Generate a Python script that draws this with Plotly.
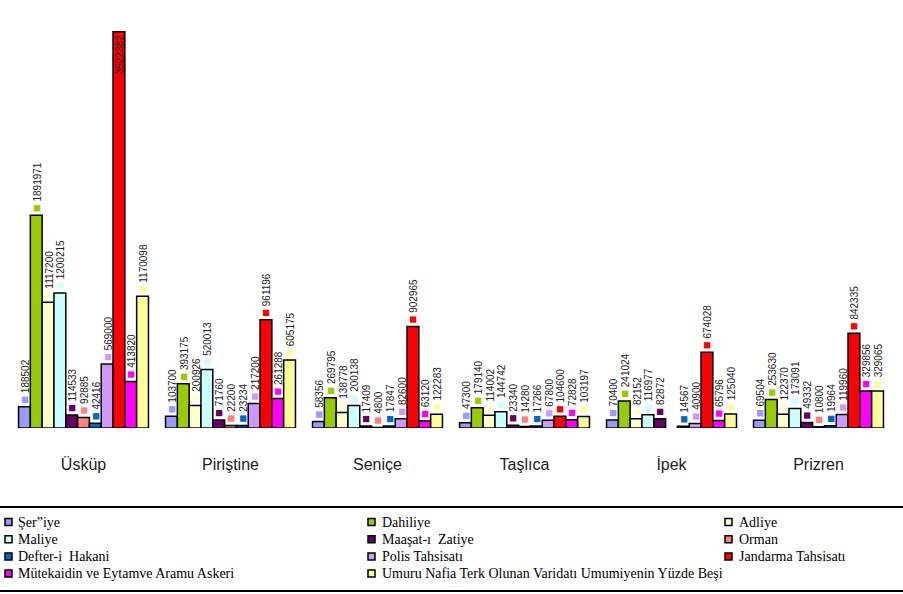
import plotly.graph_objects as go

categories = ["Üsküp", "Piriştine", "Seniçe", "Taşlıca", "İpek", "Prizren"]

series_names = [
    "Şer\u201diye", "Dahiliye", "Adliye",
    "Maliye", "Maaşat-ı  Zatiye", "Orman",
    "Defter-i  Hakani", "Polis Tahsisatı", "Jandarma Tahsisatı",
    "Mütekaidin ve Eytamve Aramu Askeri",
    "Umuru Nafia Terk Olunan Varidatı Umumiyenin Yüzde Beşi",
]

seriye = [188502, 103700, 58356, 47300, 70400, 69504]
dahiliye = [1891971, 393175, 269795, 179140, 241024, 253630]
adliye = [1117200, 200926, 138778, 114002, 82152, 122370]
maliye = [1200215, 520013, 200138, 144742, 116977, 173091]
maasat = [114533, 71760, 17409, 23340, 82872, 49332]
orman = [92885, 22200, 4800, 14280, None, 10800]
defter = [42416, 23234, 17847, 17266, 14567, 19964]
polis = [569000, 217200, 82600, 67800, 40900, 119960]
jandarma = [3522382, 961196, 902965, 104600, 674028, 842335]
mutekaidin = [413820, 261288, 63120, 72828, 65796, 329856]
umuru = [1170098, 605175, 122283, 103197, 125040, 329065]

series_values = [seriye, dahiliye, adliye, maliye, maasat, orman,
                 defter, polis, jandarma, mutekaidin, umuru]

colors = ["#9999FF", "#99CC00", "#FFFFCC", "#CCFFFF", "#660066", "#FF8080",
          "#0066CC", "#CC99FF", "#FF0000", "#FF00FF", "#FFFF99"]

# ---- layout geometry (page pixels; body margin removed in the page) ----
W, H = 903, 594
ML, MT, PW, PH = 10, 23, 882, 405


def fx(page_x):
    return (page_x - ML) / PW


def fy(page_y):
    return (MT + PH - page_y) / PH


ymax = max(max(v for v in s if v is not None) for s in series_values)

fig = go.Figure()
for i, (name, vals, col) in enumerate(zip(series_names, series_values, colors)):
    texts = [("" if v is None else
              f'<span style="color:{col};font-size:13px">■</span> {v}') for v in vals]
    positions = ["inside" if (v is not None and v == ymax) else "outside" for v in vals]
    fig.add_trace(go.Bar(
        x=categories, y=vals, name=name,
        marker=dict(color=col, line=dict(color="black", width=1.5)),
        text=texts, textposition=positions, textangle=-90,
        insidetextanchor="end", constraintext="none", cliponaxis=False,
        textfont=dict(family="Liberation Sans, Arial, sans-serif", size=10, color="#222222"),
        showlegend=False,
    ))

# ---- legend block (three columns, row-major order) ----
leg_font = dict(family="Liberation Serif, Times New Roman, serif", size=14, color="black")
col_key_x = [5, 368, 725]
col_text_x = [16, 380, 737]
row_y0, row_dy = 522, 17.2
key = 7

shapes = [
    dict(type="line", xref="paper", yref="paper", x0=fx(0), x1=fx(W),
         y0=fy(507), y1=fy(507), line=dict(color="black", width=2)),
    dict(type="line", xref="paper", yref="paper", x0=fx(0), x1=fx(W),
         y0=fy(591), y1=fy(591), line=dict(color="black", width=2)),
]
annotations = []
for i, (name, col) in enumerate(zip(series_names, colors)):
    c, r = i % 3, i // 3
    cy = row_y0 + r * row_dy
    kx = col_key_x[c]
    shapes.append(dict(type="rect", xref="paper", yref="paper",
                       x0=fx(kx), x1=fx(kx + key), y0=fy(cy + key / 2), y1=fy(cy - key / 2),
                       fillcolor=col, line=dict(color="black", width=1.5)))
    annotations.append(dict(text=name, xref="paper", yref="paper",
                            x=fx(col_text_x[c]), y=fy(cy), xanchor="left", yanchor="middle",
                            showarrow=False, font=leg_font))

fig.update_layout(
    width=W, height=H,
    margin=dict(l=ML, r=W - ML - PW, t=MT, b=H - MT - PH, autoexpand=False),
    paper_bgcolor="white", plot_bgcolor="white",
    barmode="group", bargap=0.116, bargroupgap=0,
    showlegend=False,
    xaxis=dict(showgrid=False, showline=False, zeroline=False,
               ticks="outside", ticklen=22, tickcolor="rgba(0,0,0,0)",
               tickfont=dict(family="Liberation Sans, Arial, sans-serif", size=16, color="#222222")),
    yaxis=dict(visible=False, range=[0, 3600000], showgrid=False, zeroline=False),
    shapes=shapes,
    annotations=annotations,
)

fig.write_html("out.html",
               config={"displayModeBar": False},
               post_script="document.body.style.margin='0';document.body.style.overflow='hidden';")
